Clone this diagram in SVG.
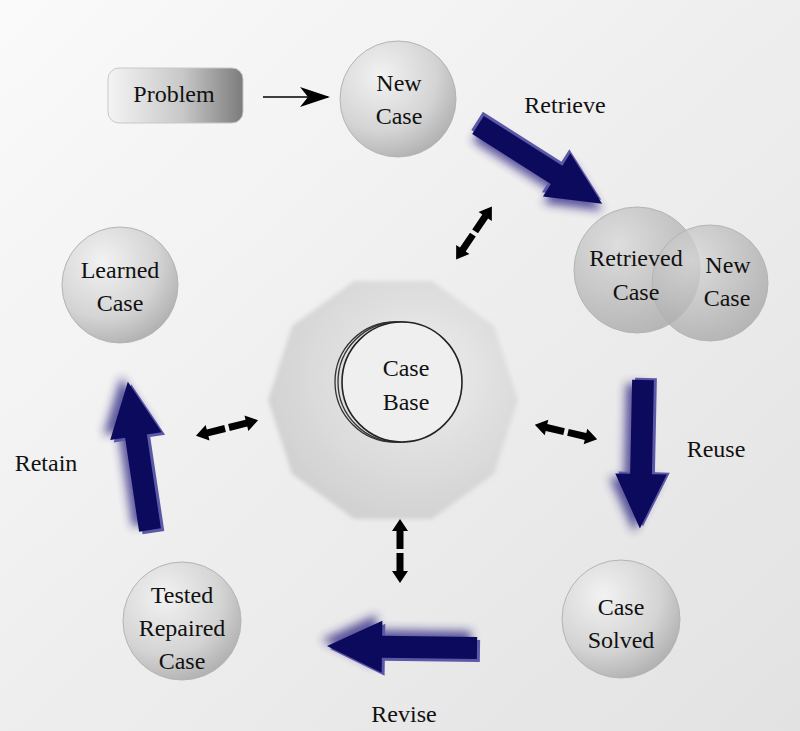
<svg xmlns="http://www.w3.org/2000/svg" width="800" height="731" viewBox="0 0 800 731">
<defs>
<linearGradient id="bg" x1="0" y1="0" x2="1" y2="1">
<stop offset="0" stop-color="#fafafa"/><stop offset="1" stop-color="#e2e2e2"/>
</linearGradient>
<linearGradient id="prob" x1="0" y1="0" x2="1" y2="0">
<stop offset="0" stop-color="#f4f4f4"/><stop offset="0.55" stop-color="#c8c8c8"/><stop offset="1" stop-color="#7c7c7c"/>
</linearGradient>
<radialGradient id="ball" cx="0.35" cy="0.3" r="0.8">
<stop offset="0" stop-color="#f2f2f2"/><stop offset="0.6" stop-color="#d4d4d4"/><stop offset="1" stop-color="#aaaaaa"/>
</radialGradient>
<radialGradient id="ballT" cx="0.35" cy="0.3" r="0.8">
<stop offset="0" stop-color="#d8d8d8" stop-opacity="0.75"/><stop offset="1" stop-color="#a0a0a0" stop-opacity="0.75"/>
</radialGradient>
<radialGradient id="oct" cx="0.6" cy="0.4" r="0.65">
<stop offset="0" stop-color="#eeeeee"/><stop offset="1" stop-color="#d0d0d0"/>
</radialGradient>
<filter id="blur" x="-30%" y="-30%" width="160%" height="160%"><feGaussianBlur stdDeviation="5"/></filter>
<filter id="soft" x="-10%" y="-10%" width="120%" height="120%"><feGaussianBlur stdDeviation="2"/></filter>
<path id="bigArrow" d="M0,-11 L95,-11 L95,-26 L150,0 L95,26 L95,11 L0,11 Z"/>
<path id="dbl" d="M2,-3.5 L20,-3.5 L20,-8 L32,0 L20,8 L20,3.5 L2,3.5 Z M-2,-3.5 L-20,-3.5 L-20,-8 L-32,0 L-20,8 L-20,3.5 L-2,3.5 Z"/>
<marker id="stealth" viewBox="0 0 30 20" refX="28" refY="10" markerWidth="30" markerHeight="20" markerUnits="userSpaceOnUse" orient="auto">
<path d="M0,0 L30,10 L0,20 L8,10 Z" fill="#000"/>
</marker>
</defs>
<style>
.node{stroke:#b4b4b4;stroke-width:1}
.shadow{fill:#2a2480;opacity:0.75;filter:url(#blur)}
.side{fill:#5c58a8}
.face{fill:#0c0a5c}
.dbl{fill:#000}
</style>
<rect width="800" height="731" fill="url(#bg)"/>

<g font-family="'Liberation Serif', 'Times New Roman', Times, 'DejaVu Serif', serif" font-size="24" fill="#111" text-anchor="middle">

<g id="case-base-hub">
<polygon points="354,281 432,281 494,326 518,400 494,474 432,519 354,519 292,474 268,400 292,326" fill="url(#oct)" filter="url(#soft)"/>
<circle cx="395" cy="382" r="60" fill="none" stroke="#333" stroke-width="1.3"/>
<circle cx="398" cy="382" r="60" fill="none" stroke="#333" stroke-width="1.3"/>
<circle cx="402" cy="382" r="60" fill="#efefef" stroke="#222" stroke-width="1.6"/>
<text x="406" y="376">Case</text>
<text x="406" y="410">Base</text>
</g>

<g id="problem">
<rect x="108" y="68" width="135" height="55" rx="11" fill="url(#prob)" stroke="#c8c8c8"/>
<text x="174" y="102">Problem</text>
</g>

<g id="new-case">
<circle class="node" cx="398" cy="99" r="58" fill="url(#ball)"/>
<text x="399" y="91">New</text>
<text x="399" y="124">Case</text>
</g>

<g id="retrieved-case">
<circle class="node" cx="637" cy="270" r="63" fill="url(#ballT)"/>
<circle class="node" cx="710" cy="283" r="58" fill="url(#ballT)"/>
<text x="636" y="266">Retrieved</text>
<text x="636" y="300">Case</text>
<text x="728" y="273">New</text>
<text x="727" y="306">Case</text>
</g>

<g id="case-solved">
<circle class="node" cx="621" cy="619" r="59" fill="url(#ball)"/>
<text x="621" y="615">Case</text>
<text x="621" y="648">Solved</text>
</g>

<g id="tested-repaired-case">
<circle class="node" cx="182" cy="621" r="59" fill="url(#ball)"/>
<text x="182" y="603">Tested</text>
<text x="182" y="636">Repaired</text>
<text x="182" y="669">Case</text>
</g>

<g id="learned-case">
<circle class="node" cx="120" cy="285" r="58" fill="url(#ball)"/>
<text x="120" y="278">Learned</text>
<text x="120" y="311">Case</text>
</g>

<g id="labels">
<text x="565" y="113">Retrieve</text>
<text x="716" y="457">Reuse</text>
<text x="404" y="722">Revise</text>
<text x="46" y="471">Retain</text>
</g>
</g>

<g id="connectors">
<line x1="263" y1="97" x2="328" y2="97" stroke="#000" stroke-width="1.5" marker-end="url(#stealth)"/>

<g transform="translate(478,125) rotate(32.4) scale(0.98)">
<use href="#bigArrow" class="shadow" transform="translate(4,6)"/>
<use href="#bigArrow" class="side" transform="translate(-3,-3)"/>
<use href="#bigArrow" class="face"/>
</g>
<g transform="translate(643,380) rotate(91.2) scale(0.99)">
<use href="#bigArrow" class="shadow" transform="translate(4,6)"/>
<use href="#bigArrow" class="side" transform="translate(-2,-3)"/>
<use href="#bigArrow" class="face"/>
</g>
<g transform="translate(477,648) rotate(180.8) scale(1)">
<use href="#bigArrow" class="shadow" transform="translate(6,6)"/>
<use href="#bigArrow" class="side" transform="translate(-3,-3)"/>
<use href="#bigArrow" class="face"/>
</g>
<g transform="translate(150,530) rotate(-98.5) scale(1)">
<use href="#bigArrow" class="shadow" transform="translate(6,-6)"/>
<use href="#bigArrow" class="side" transform="translate(-3,3)"/>
<use href="#bigArrow" class="face"/>
</g>

<use href="#dbl" class="dbl" transform="translate(474,233) rotate(-56)"/>
<use href="#dbl" class="dbl" transform="translate(227,428) rotate(-14)"/>
<use href="#dbl" class="dbl" transform="translate(566,432) rotate(13)"/>
<use href="#dbl" class="dbl" transform="translate(400,551) rotate(90)"/>
</g>
</svg>
